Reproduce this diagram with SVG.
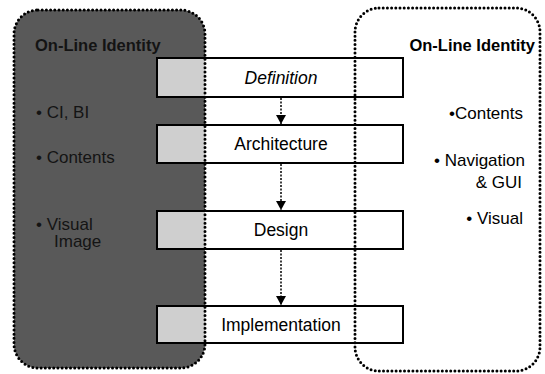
<svg xmlns="http://www.w3.org/2000/svg" width="545" height="374" viewBox="0 0 545 374">
<style>
.panel{fill:none;stroke:#000;stroke-width:3;stroke-linecap:round;stroke-dasharray:0 4.2}
.box{fill:#fff;stroke:#000;stroke-width:2}
.tab{fill:#cfcfcf}
.lbl{font-family:"Liberation Sans",Arial,sans-serif;font-size:17.5px;fill:#000;text-anchor:middle}
.h{font-family:"Liberation Sans",Arial,sans-serif;font-size:16.5px;font-weight:bold}
.item{font-family:"Liberation Sans",Arial,sans-serif;font-size:17px;fill:#000}
.dk{fill:#141414}
.conn{stroke:#000;stroke-width:1.5;stroke-dasharray:2 1.5}
</style>
<defs>
<marker id="ah" markerWidth="10" markerHeight="10" refX="9" refY="5" orient="auto" markerUnits="userSpaceOnUse" viewBox="0 0 10 10">
<path d="M0,0 L9,5 L0,10 Z" fill="#000"/>
</marker>
</defs>
<rect x="14" y="10" width="191" height="358" rx="24" fill="#595959"/>
<g id="left-panel">
<text class="h dk" x="35" y="51">On-Line Identity</text>
<text class="item dk" x="36" y="118">• CI, BI</text>
<text class="item dk" x="36" y="163">• Contents</text>
<text class="item dk" x="36" y="230">• Visual</text>
<text class="item dk" x="54" y="247">Image</text>
</g>
<g id="right-panel">
<text class="h" x="535" y="51" text-anchor="end" fill="#000">On-Line Identity</text>
<text class="item" x="523" y="119" text-anchor="end">•Contents</text>
<text class="item" x="525" y="166" text-anchor="end">• Navigation</text>
<text class="item" x="522" y="188" text-anchor="end">&amp; GUI</text>
<text class="item" x="523" y="224" text-anchor="end">• Visual</text>
</g>
<g id="definition">
<rect class="box" x="157" y="58" width="246" height="39"/>
<rect class="tab" x="158" y="59" width="47" height="37"/>
<text class="lbl" x="281" y="84" font-style="italic">Definition</text>
</g>
<g id="architecture">
<rect class="box" x="157" y="125" width="246" height="38"/>
<rect class="tab" x="158" y="126" width="47" height="36"/>
<text class="lbl" x="281" y="150">Architecture</text>
</g>
<g id="design">
<rect class="box" x="157" y="211" width="246" height="38"/>
<rect class="tab" x="158" y="212" width="47" height="36"/>
<text class="lbl" x="281" y="236">Design</text>
</g>
<g id="implementation">
<rect class="box" x="157" y="306" width="246" height="37"/>
<rect class="tab" x="158" y="307" width="47" height="35"/>
<text class="lbl" x="281" y="331">Implementation</text>
</g>
<g id="connectors">
<line class="conn" x1="281" y1="98" x2="281" y2="124" marker-end="url(#ah)"/>
<line class="conn" x1="281" y1="164" x2="281" y2="210" marker-end="url(#ah)"/>
<line class="conn" x1="281" y1="250" x2="281" y2="305" marker-end="url(#ah)"/>
</g>
<rect class="panel" x="14" y="10" width="191" height="358" rx="24"/>
<rect class="panel" x="355" y="8" width="185" height="363" rx="24"/>
</svg>
